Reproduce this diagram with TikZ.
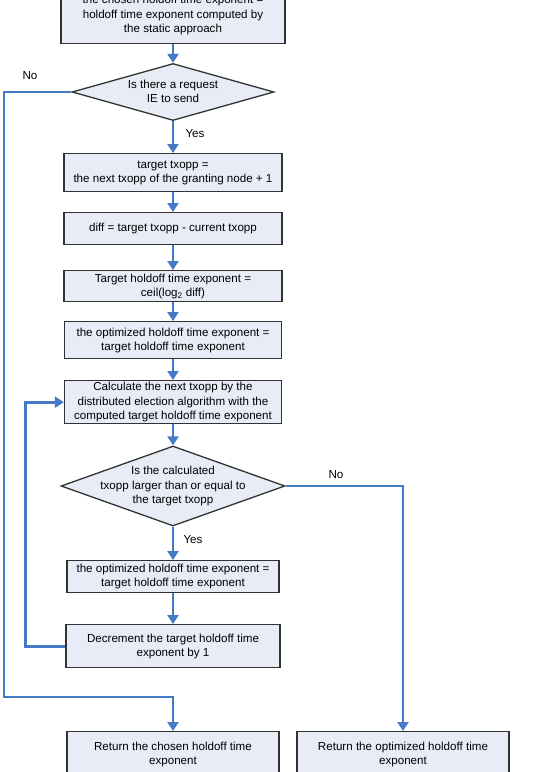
\documentclass[tikz,border=0pt]{standalone}
\usepackage{fontspec}
\setmainfont{Liberation Sans}
\usetikzlibrary{shapes.geometric,arrows.meta}
\definecolor{boxfill}{RGB}{232,236,247}
\definecolor{boxline}{RGB}{50,50,50}
\definecolor{flowblue}{RGB}{70,122,198}
\tikzset{stepbox/.style 2 args={
    draw=boxline,
    line width=1.3pt,
    fill=boxfill,
    rectangle,
    anchor=north,
    inner sep=0pt,
    minimum width=#1,
    minimum height=#2,
    align=center,
    font=\fontsize{11.6}{14.3}\selectfont
  },
  decision/.style 2 args={
    draw=boxline,
    line width=1.3pt,
    fill=boxfill,
    diamond,
    inner sep=0pt,
    minimum width=#1,
    minimum height=#2
  },
  qtext/.style={align=center, inner sep=0pt, font=\fontsize{11.6}{14.3}\selectfont},
  lbl/.style={inner sep=0pt, font=\fontsize{11.6}{13}\selectfont},
  flow/.style={draw=flowblue, line width=2.8pt, -{Triangle[width=11pt,length=9pt]}}
}

\begin{document}
\begin{tikzpicture}[x=1pt,y=-1pt]
    \useasboundingbox (0,0) rectangle (535,772);
    \clip (0,0) rectangle (535,772);

    % Main column of steps.
    \node[stepbox={224pt}{57pt}] (start) at (173,-14) {the chosen holdoff time exponent =\\holdoff time exponent computed by\\the static approach};
    \node[decision={202pt}{57pt}] (q1) at (173,92) {};
    \node[qtext] (q1t) at (173,91) {Is there a request\\IE to send};
    \node[stepbox={218pt}{38pt}] (target) at (173,153) {target txopp =\\the next txopp of the granting node + 1};
    \node[stepbox={218pt}{32pt}] (diff) at (173,212) {diff = target txopp - current txopp};
    \node[stepbox={218pt}{31pt}] (thold) at (173,270) {Target holdoff time exponent =\\ceil(log\textsubscript{2} diff)};
    \node[stepbox={217pt}{37pt}] (opt1) at (173,321) {the optimized holdoff time exponent =\\target holdoff time exponent};
    \node[stepbox={217pt}{43pt}] (calc) at (173,380) {Calculate the next txopp by the\\distributed election algorithm with the\\computed target holdoff time exponent};
    \node[decision={224pt}{80pt}] (q2) at (173,486) {};
    \node[qtext] (q2t) at (173,486) {Is the calculated\\txopp larger than or equal to\\the target txopp};
    \node[stepbox={212pt}{32pt}] (opt2) at (173,560) {the optimized holdoff time exponent =\\target holdoff time exponent};
    \node[stepbox={214pt}{43pt}] (dec) at (173,624) {Decrement the target holdoff time\\exponent by 1};

    % The two results.
    \node[stepbox={212pt}{45pt}] (ret1) at (173,731) {Return the chosen holdoff time\\exponent};
    \node[stepbox={212pt}{45pt}] (ret2) at (403,731) {Return the optimized holdoff time\\exponent};

    % Yes / No labels.
    \node[lbl] (no1) at (30,76) {No};
    \node[lbl] (yes1) at (195,134) {Yes};
    \node[lbl] (no2) at (336,475) {No};
    \node[lbl] (yes2) at (193,540) {Yes};

    % Connectors.
    \coordinate (c1) at (4,697);
    \draw[flow] (start) -- (q1);
    \draw[flow] (q1) -- (target);
    \draw[flow] (target) -- (diff);
    \draw[flow] (diff) -- (thold);
    \draw[flow] (thold) -- (opt1);
    \draw[flow] (opt1) -- (calc);
    \draw[flow] (calc) -- (q2);
    \draw[flow] (q2) -- (opt2);
    \draw[flow] (opt2) -- (dec);
    \draw[flow] (dec.west) -- ++(-40,0) |- (calc.west);
    \draw[flow] (q1.west) -| (c1) -| (ret1.north);
    \draw[flow] (q2.east) -| (ret2.north);

\end{tikzpicture}
\end{document}
